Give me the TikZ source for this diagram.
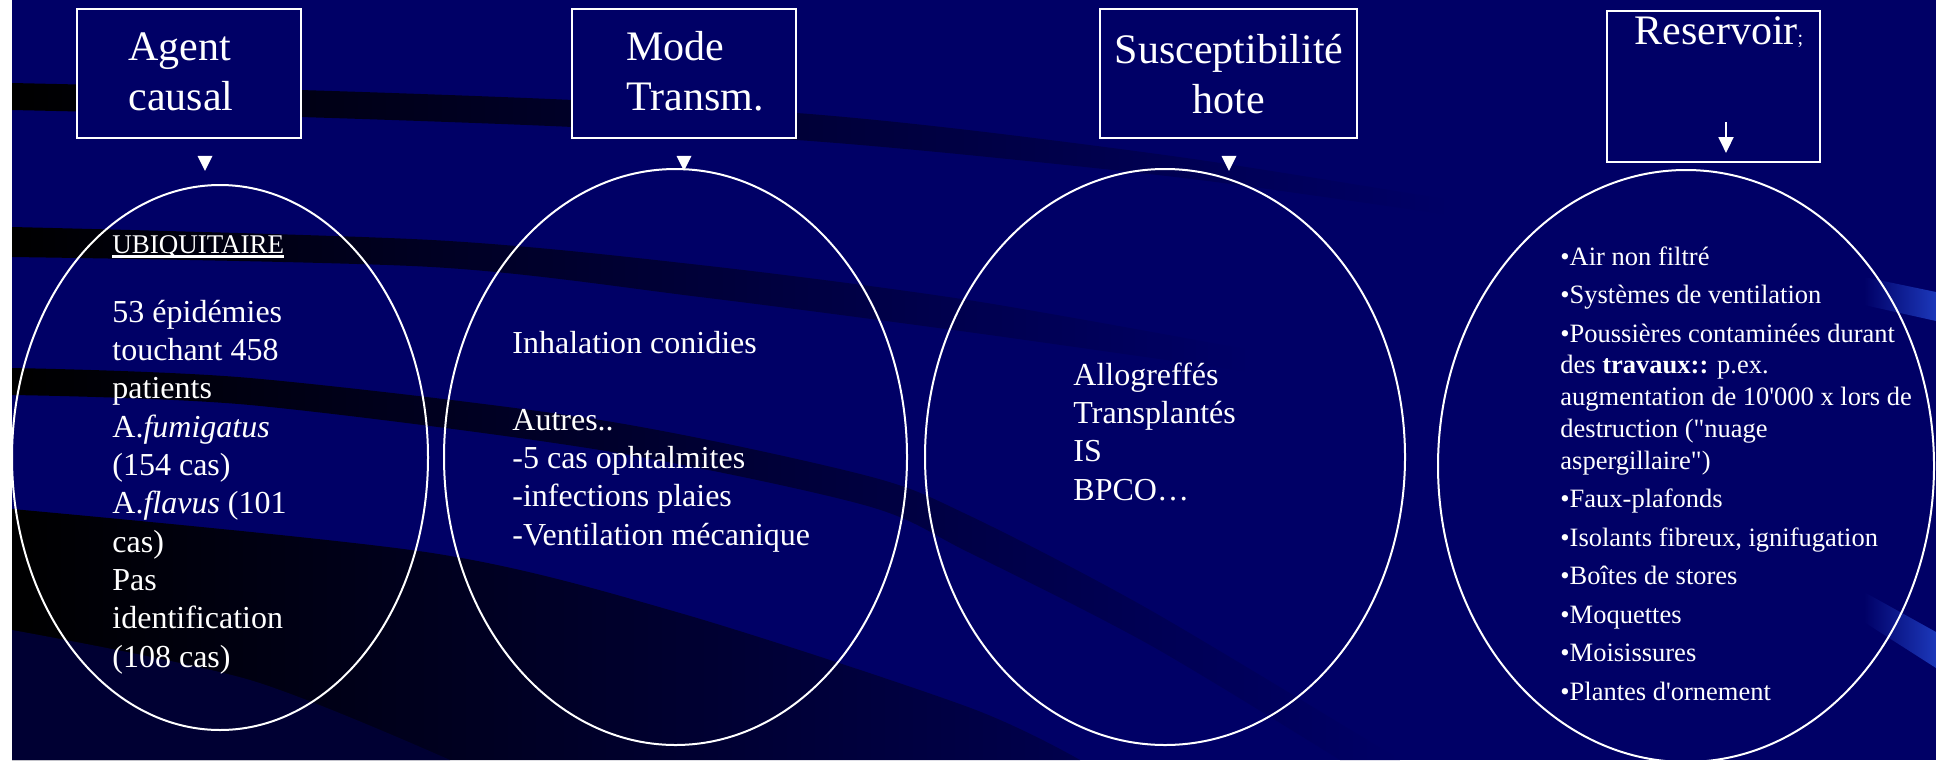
\documentclass[tikz,border=0pt]{standalone}
\usepackage{fontspec}
\setmainfont{Liberation Serif}
\usepackage{tikz}
\usetikzlibrary{positioning, shapes.geometric, arrows.meta}

\definecolor{slidebg}{RGB}{0,0,102}
\definecolor{swoosh}{RGB}{51,102,255}

\newcommand\titlefont{\fontsize{21}{25}\selectfont}
\newcommand\ovalfont{\fontsize{16}{19.15}\selectfont}
\newcommand\listfont{\fontsize{13.25}{15.85}\selectfont}
\newcommand\ulword[1]{\setbox0=\hbox{#1}\rlap{\rule[-2.3pt]{\wd0}{1.1pt}}\box0}

\tikzset{
    box/.style={draw=white, line width=1pt, fill=slidebg, inner sep=0pt},
    oval/.style={ellipse, draw=white, line width=1pt, inner sep=0pt},
    downtip/.style={isosceles triangle, isosceles triangle stretches, shape border rotate=-90,
        fill=white, inner sep=0pt, minimum width=7.5pt, minimum height=7.5pt},
    % multi-line texts: anchored at the baseline of their last line
    boxtitle/.style={text=white, font=\titlefont, align=left, inner sep=0pt, anchor=base west},
    ovaltext/.style={text=white, font=\ovalfont, align=left, inner sep=0pt, anchor=base west},
    darkband/.style={left color=black, right color=slidebg},
    blueband/.style={left color=slidebg, middle color=swoosh, right color=swoosh!55!slidebg},
}

\begin{document}
\begin{tikzpicture}[x=0.5pt, y=-0.5pt]
    \useasboundingbox (0,0) rectangle (1936,760);
    % slide background
    \fill[slidebg] (0,0) rectangle (1936,760);
    \shade[darkband] plot[smooth] coordinates {(12,83) (300,90) (573,100) (797,113) (968,130) (1200,160) (1450,200)}
        -- plot[smooth] coordinates {(1450,215) (1200,180) (968,155) (797,140) (573,127) (300,117) (12,110)} -- cycle;
    \shade[darkband] plot[smooth] coordinates {(12,227) (432,240) (700,265) (968,300) (1250,350)}
        -- plot[smooth] coordinates {(1250,372) (968,332) (700,297) (432,267) (12,257)} -- cycle;
    \shade[left color=black, right color=slidebg!75!black] plot[smooth] coordinates {(12,509) (432,553) (680,613) (968,707) (1080,760)}
        -- (12,760) -- cycle;
    \fill[slidebg!50!black] plot[smooth] coordinates {(12,630) (250,680) (450,760)} -- (12,760) -- cycle;
    \shade[left color=black, middle color=black!55!slidebg, right color=slidebg] plot[smooth] coordinates {(12,368) (250,378) (600,420) (864,475) (968,515) (1150,610) (1400,760)}
        -- plot[smooth] coordinates {(1340,760) (1150,645) (968,552) (864,505) (600,450) (250,405) (12,395)} -- cycle;
    \shade[blueband] (1864,277) -- (1936,292) -- (1936,321) -- (1864,305) -- cycle;
    \shade[blueband] (1864,592) -- (1936,632) -- (1936,668) -- (1864,622) -- cycle;
    \fill[white] (0,0) rectangle (12,760);

    % title boxes
    \node[box, minimum width=112pt, minimum height=64.5pt] (agent) at (189,73.5) {};
    \node[box, minimum width=112pt, minimum height=64.5pt] (mode) at (684,73.5) {};
    \node[box, minimum width=128.5pt, minimum height=64.5pt] (host) at (1228.5,73.5) {};
    \node[box, minimum width=106.5pt, minimum height=75.5pt] (reservoir) at (1713.5,86.5) {};

    \node[boxtitle] (agentT) at (128,110) {Agent\\causal};
    \node[boxtitle] (modeT) at (626,110) {Mode\\Transm.};
    \node[boxtitle, align=center, anchor=base] (hostT) at (1229,113) {Susceptibilité\\hote};
    \node[boxtitle] (reservoirT) at (1634,44) {Reservoir{\fontsize{10}{12}\selectfont;}};

    \node[downtip] (tip1) at (205,160.5) {};
    \node[downtip] (tip2) at (684,160.5) {};
    \node[downtip] (tip3) at (1229,160.5) {};
    \coordinate (resTop) at (1726,122);
    \coordinate (resEnd) at (1726,153);
    \draw[white, line width=1pt, -{Stealth[inset=0pt, length=8pt, width=7.5pt]}] (resTop) -- (resEnd);

    % ovals
    \node[oval, minimum width=208pt, minimum height=272.5pt] (agentO) at (220,457.5) {};
    \node[oval, minimum width=231.5pt, minimum height=288pt] (modeO) at (675.5,457) {};
    \node[oval, minimum width=240pt, minimum height=288pt] (hostO) at (1165,457) {};
    \node[oval, minimum width=248pt, minimum height=296pt] (reservoirO) at (1686,466) {};

    \node[ovaltext, font={\fontsize{13.5}{16}\selectfont}] (ubiq) at (112,253) {\ulword{UBIQUITAIRE}};
    \node[ovaltext] (agentL) at (112,667) {53 épidémies\\touchant 458\\patients\\A.\textit{fumigatus}\\(154 cas)\\
        A.\textit{flavus} (101\\cas)\\Pas\\identification\\(108 cas)};
    \node[ovaltext] (modeL) at (512,545) {Inhalation conidies\\[19.15pt]Autres..\\-5 cas ophtalmites\\
        -infections plaies\\-Ventilation mécanique};
    \node[ovaltext] (hostL) at (1073,500) {Allogreffés\\Transplantés\\IS\\BPCO…};
    \node[ovaltext, font=\listfont] (reservoirL) at (1560,700) {•Air non filtré\\[3.4pt]
        •Systèmes de ventilation\\[3.4pt]
        •Poussières contaminées durant\\des \textbf{travaux::} p.ex.\\
        augmentation de 10\textquotesingle000 x lors de\\destruction (\textquotedbl nuage\\aspergillaire\textquotedbl)\\[3.4pt]
        •Faux-plafonds\\[3.4pt]
        •Isolants fibreux, ignifugation\\[3.4pt]
        •Boîtes de stores\\[3.4pt]
        •Moquettes\\[3.4pt]
        •Moisissures\\[3.4pt]
        •Plantes d\textquotesingle ornement};
\end{tikzpicture}
\end{document}
